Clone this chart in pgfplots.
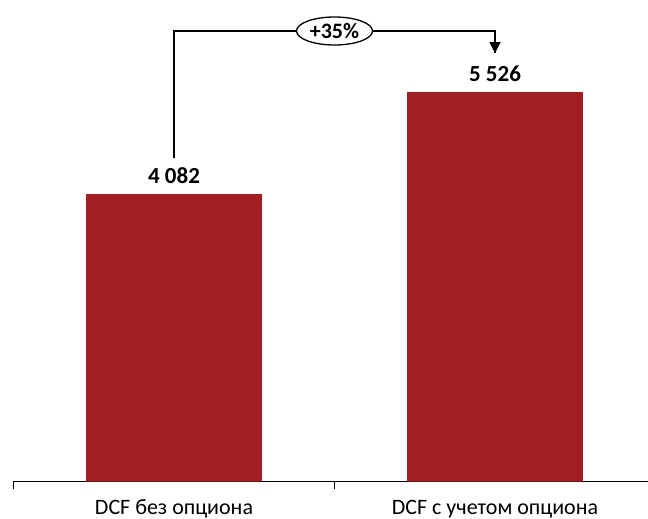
\documentclass[border=0pt]{standalone}
\usepackage{pgfplots}
\pgfplotsset{compat=1.18}
\usepackage{fontspec}
\setmainfont{Carlito}
\usetikzlibrary{arrows.meta,shapes.geometric}
\definecolor{barred}{RGB}{161,31,35}
\begin{document}
\begin{tikzpicture}
\begin{axis}[
  name=main,
  scale only axis, width=642pt, height=481.7pt,
  xmin=-0.5, xmax=1.5, ymin=0, ymax=6835,
  axis x line*=bottom, axis y line=none,
  axis line style={line width=1.2pt, -},
  xtick={0,1}, xticklabels={DCF без опциона, DCF с учетом опциона},
  major tick length=0pt,
  extra x ticks={-0.5,0.5,1.5}, extra x tick labels={},
  extra x tick style={major tick length=7pt, xtick align=outside, tick style={line width=1.2pt, black}},
  xticklabel style={font=\fontsize{22}{26}\selectfont, anchor=base, yshift=-33pt},
  ybar, bar width=0.548, 
  /pgf/number format/assume math mode=true,
  /pgf/number format/1000 sep={\ },
  nodes near coords,
  nodes near coords style={font=\fontsize{23}{27}\selectfont\bfseries, anchor=base, yshift=11pt, inner sep=0pt, text=black},
  clip=false,
]
\addplot[fill=barred, draw=none] coordinates {(0,4082) (1,5526)};
\draw[line width=1.3pt] (axis cs:0,4595) |- (axis cs:1,6395) -- (axis cs:1,6080);
\draw[line width=1.3pt, -{Triangle[width=11pt,length=11pt]}] (axis cs:1,6300) -- (axis cs:1,6080);
\node[ellipse, draw, line width=1.3pt, fill=white, minimum width=76pt, minimum height=28pt, inner sep=0pt, font=\fontsize{22}{26}\selectfont\bfseries] at (axis cs:0.5,6395) {+35\%};
\end{axis}
\pgfresetboundingbox
\path[use as bounding box] ([shift={(-13.5pt,-37.3pt)}]main.south west) rectangle ([shift={(634.5pt,481.7pt)}]main.south west);
\end{tikzpicture}
\end{document}
